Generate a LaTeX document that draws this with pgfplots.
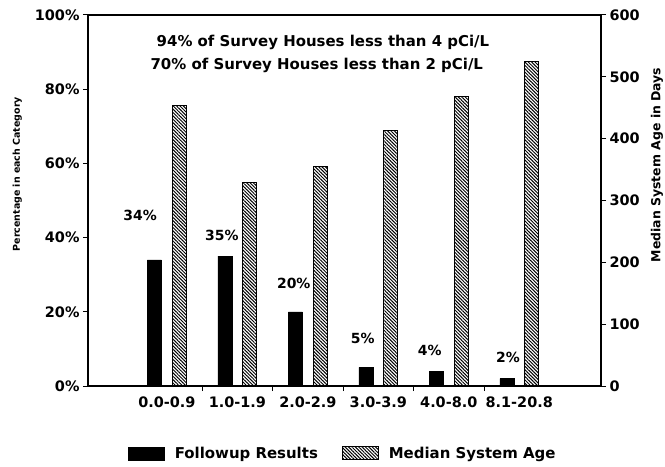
\documentclass[border=0pt]{standalone}
\usepackage{pgfplots}
\pgfplotsset{compat=1.18}
\usepackage{fontspec}
\setmainfont{DejaVu Sans}
\usetikzlibrary{patterns.meta}

\begin{document}
\begin{tikzpicture}
\useasboundingbox (-88bp,-81bp) rectangle (577bp,386bp);
\pgfplotsset{
 common/.style={
  scale only axis, width=513bp, height=371bp,
  xmin=-1.12, xmax=6.16,
  axis line style={line width=1.3pt},
  every tick/.style={black, line width=1pt},
  major tick length=5bp,
  minor tick length=5bp,
  tick align=outside,
  tick label style={font=\fontsize{14.5}{16}\selectfont\bfseries},
  clip=false,
 },
 mylegend/.style={legend image code/.code={\draw[##1] (0bp,-6bp) rectangle (36bp,7bp);}},
}
\begin{axis}[common,
  ymin=0, ymax=100,
  ytick={0,20,40,60,80,100},
  yticklabels={0\%,20\%,40\%,60\%,80\%,100\%},
  ytick pos=left,
  xtick={0,1,2,3,4,5},
  xticklabels={0.0-0.9,1.0-1.9,2.0-2.9,3.0-3.9,4.0-8.0,8.1-20.8},
  xtick pos=bottom,
  minor xtick={0.5,1.5,2.5,3.5,4.5},
  major x tick style={draw=none},
  x tick label style={yshift=-2bp},
  ylabel={Percentage in each Category},
  ylabel style={at={(rel axis cs:-0.138,0.571)}, anchor=center, font=\fontsize{9.5}{11}\selectfont\bfseries},
  ybar, bar width=14bp, bar shift=-12.5bp,
]
\addplot[fill=black, draw=black] coordinates {(0,34) (1,35) (2,20) (3,5) (4,4) (5,2)};
\begin{scope}[font=\fontsize{14}{16}\selectfont\bfseries]
\node at (axis cs:-0.38,46) {34\%};
\node at (axis cs:0.78,40.5) {35\%};
\node at (axis cs:1.80,27.6) {20\%};
\node at (axis cs:2.78,12.7) {5\%};
\node at (axis cs:3.73,9.7) {4\%};
\node at (axis cs:4.84,7.8) {2\%};
\end{scope}
\begin{scope}[font=\fontsize{15}{17}\selectfont\bfseries]
\node at (rel axis cs:0.458,0.927) {94\% of Survey Houses less than 4 pCi/L};
\node at (rel axis cs:0.446,0.865) {70\% of Survey Houses less than 2 pCi/L};
\end{scope}
\end{axis}
\begin{axis}[common,
  ymin=0, ymax=600,
  ytick={0,100,200,300,400,500,600},
  yticklabels={0,100,200,300,400,500,600},
  axis y line*=right,
  axis x line=none,
  ylabel={Median System Age in Days},
  ylabel style={at={(rel axis cs:1.109,0.596)}, anchor=center, font=\fontsize{12.5}{14}\selectfont\bfseries},
  ybar, bar width=14bp, bar shift=12.5bp,
  legend style={at={(0.497,-0.183)}, anchor=center, draw=none, legend columns=2,
    font=\fontsize{15}{17}\selectfont\bfseries,
    /tikz/every even column/.append style={column sep=22bp}},
]
\addlegendimage{mylegend, fill=black, draw=black}
\addlegendentry{\hspace{8bp}Followup Results}
\addplot[mylegend, draw=black, line width=1pt, pattern={Lines[angle=-45,distance=2.4pt,line width=1pt]}] coordinates {(0,454) (1,329) (2,355) (3,413) (4,468) (5,525)};
\addlegendentry{\hspace{8bp}Median System Age}
\end{axis}
\end{tikzpicture}
\end{document}
